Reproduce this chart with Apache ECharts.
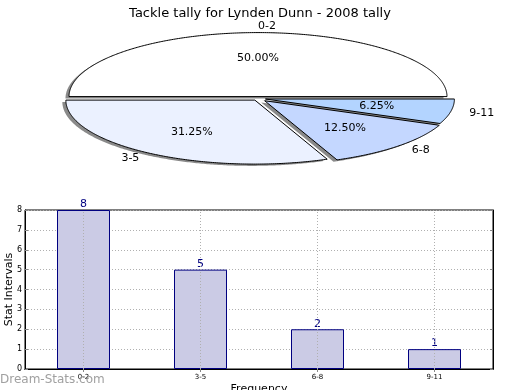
<!DOCTYPE html>
<html><head><meta charset="utf-8">
<script src="https://cdn.jsdelivr.net/npm/echarts@6/dist/echarts.min.js"></script>
<style>html,body{margin:0;padding:0;background:#fff}#c{width:520px;height:390px}</style>
</head><body><div id="c"></div>
<script>
const chartTitle = 'Tackle tally for Lynden Dunn - 2008 tally';
const categories = ['0-2', '3-5', '6-8', '9-11'];
const tallies = [8, 5, 2, 1];
const yTicks = [0, 1, 2, 3, 4, 5, 6, 7, 8];
const yName = 'Stat Intervals';
const xName = 'Frequency';
const watermark = 'Dream-Stats.com';

const pieColors = ['#ffffff', '#ebf1ff', '#c4d7ff', '#b3d4ff'];
const explode = [0.03, 0.03, 0.05, 0.04];
const PIE = { cx: 258, cy: 98.5, rx: 189, ry: 64 };
const FONT = 'DejaVu Sans';
const GRIDLINE = { color: '#b0b0b0', type: [1, 2], width: 1 };

const total = tallies.reduce((a, b) => a + b, 0);

function renderSlice(params, api) {
  const i = params.dataIndex;
  const v = api.value(0);
  let start = 0;
  for (let k = 0; k < i; k++) start += tallies[k];
  const a0 = start / total * 2 * Math.PI;
  const a1 = (start + v) / total * 2 * Math.PI;
  const mid = (a0 + a1) / 2;
  const c = Math.cos(mid), s = Math.sin(mid);
  const vx = PIE.cx + explode[i] * PIE.rx * c;
  const vy = PIE.cy - explode[i] * PIE.ry * s;
  const pts = [[vx, vy]];
  const n = Math.max(10, Math.ceil((a1 - a0) / 0.01));
  for (let j = 0; j <= n; j++) {
    const t = a0 + (a1 - a0) * j / n;
    pts.push([vx + PIE.rx * Math.cos(t), vy - PIE.ry * Math.sin(t)]);
  }
  const shadowPts = pts.map(p => [p[0] - 3.5, p[1] + 1.8]);
  return {
    type: 'group',
    children: [
      { type: 'polygon', z2: 1, shape: { points: shadowPts }, style: { fill: '#8a8a8a', stroke: null } },
      { type: 'polygon', z2: 2, shape: { points: pts }, style: { fill: pieColors[i], stroke: '#000', lineWidth: 1 } },
      { type: 'text', z2: 3, x: vx + 0.6 * PIE.rx * c, y: vy - 0.6 * PIE.ry * s,
        style: { text: (v / total * 100).toFixed(2) + '%', fill: '#000', fontSize: 11, fontFamily: FONT, align: 'center', verticalAlign: 'middle' } },
      { type: 'text', z2: 3, x: vx + 1.1 * PIE.rx * c, y: vy - 1.1 * PIE.ry * s,
        style: { text: categories[i], fill: '#000', fontSize: 11, fontFamily: FONT, align: c > 0 ? 'left' : 'right', verticalAlign: 'middle' } }
    ]
  };
}

const chart = echarts.init(document.getElementById('c'), null, { renderer: 'canvas' });
chart.setOption({
  animation: false,
  backgroundColor: '#fff',
  title: { text: chartTitle, left: 'center', top: 2, textStyle: { fontFamily: FONT, fontSize: 13, fontWeight: 'normal', color: '#000' } },
  grid: { left: 25, right: 27, top: 210, bottom: 21, containLabel: false, outerBoundsMode: 'none',
          show: true, borderColor: '#000', borderWidth: 1, backgroundColor: '#fff' },
  xAxis: [{
    type: 'category', data: categories, position: 'bottom',
    name: xName, nameLocation: 'middle', nameGap: 15, nameMoveOverlap: false,
    nameTextStyle: { fontFamily: FONT, fontSize: 11, color: '#000', verticalAlign: 'top' },
    axisLine: { show: true, lineStyle: { color: '#000', width: 1 } },
    axisTick: { show: true, inside: true, alignWithLabel: true, length: 3, lineStyle: { color: '#888' } },
    axisLabel: { fontFamily: FONT, fontSize: 7, color: '#000', margin: 5 },
    splitLine: { show: false }
  }, {
    type: 'category', data: categories, position: 'top',
    axisLine: { show: true, lineStyle: { color: '#000' } },
    axisTick: { show: true, inside: true, alignWithLabel: true, length: 3, lineStyle: { color: '#888' } },
    axisLabel: { show: false }, splitLine: { show: false }
  }],
  yAxis: [{
    type: 'value', min: yTicks[0], max: yTicks[yTicks.length - 1], interval: 1, position: 'left',
    name: yName, nameLocation: 'middle', nameGap: 10, nameRotate: 90, nameMoveOverlap: false,
    nameTextStyle: { fontFamily: FONT, fontSize: 11, color: '#000' },
    axisLine: { show: true, lineStyle: { color: '#000', width: 1 } },
    axisTick: { show: true, inside: true, length: 3, lineStyle: { color: '#888' } },
    axisLabel: { fontFamily: FONT, fontSize: 8, color: '#000', margin: 3 },
    splitLine: { show: true, lineStyle: GRIDLINE }
  }, {
    type: 'value', min: yTicks[0], max: yTicks[yTicks.length - 1], interval: 1, position: 'right',
    axisLine: { show: true, lineStyle: { color: '#000' } },
    axisTick: { show: true, inside: true, length: 3, lineStyle: { color: '#888' } },
    axisLabel: { show: false }, splitLine: { show: false }
  }],
  series: [{
    type: 'custom', coordinateSystem: 'none', renderItem: renderSlice,
    data: tallies.map(v => [v]), silent: true
  }, {
    type: 'bar', xAxisIndex: 0, yAxisIndex: 0, data: tallies, barWidth: 53,
    itemStyle: { color: '#cbcbe5', borderColor: '#000080', borderWidth: 1 },
    label: { show: true, position: 'top', distance: 0, color: '#000080', fontFamily: FONT, fontSize: 11, lineHeight: 11 },
    markLine: {
      silent: true, symbol: 'none', animation: false,
      label: { show: false },
      lineStyle: GRIDLINE,
      data: categories.map(c => ({ xAxis: c }))
    },
    silent: true
  }],
  graphic: [{
    type: 'text', left: 0, top: 374, z: 100,
    style: { text: watermark, fill: '#a0a0a0', fontFamily: FONT, fontSize: 12, fontWeight: 'normal' }
  }]
});
</script></body></html>
